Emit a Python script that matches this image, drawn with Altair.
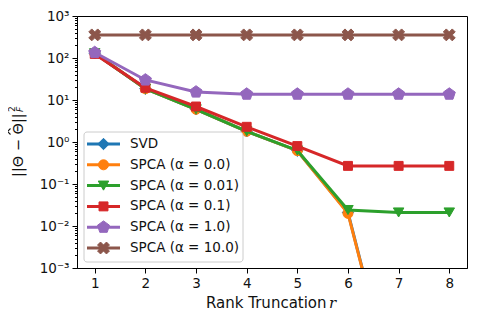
import altair as alt
import pandas as pd

# ---------------- data ----------------
ranks = [1, 2, 3, 4, 5, 6, 7, 8]
svd       = [130, 18.5, 6.0, 1.8, 0.62, 0.021, 4e-7, 3e-7]
spca_a0   = [130, 18.5, 6.0, 1.8, 0.62, 0.020, 4e-7, 3e-7]
spca_a001 = [130, 18.5, 6.0, 1.8, 0.63, 0.024, 0.021, 0.021]
spca_a01  = [125, 19.5, 7.0, 2.3, 0.80, 0.27, 0.27, 0.27]
spca_a1   = [135, 30, 15.5, 13.8, 13.8, 13.8, 13.8, 13.8]
spca_a10  = [355, 355, 355, 355, 355, 355, 355, 355]

series_labels = ["SVD", "SPCA (α = 0.0)", "SPCA (α = 0.01)", "SPCA (α = 0.1)",
                 "SPCA (α = 1.0)", "SPCA (α = 10.0)"]
series_values = [svd, spca_a0, spca_a001, spca_a01, spca_a1, spca_a10]

y_major = [1e-3, 1e-2, 1e-1, 1, 10, 100, 1000]
y_minor = [k * 10.0 ** d for d in range(-3, 3) for k in range(2, 10)]

# ---------------- styles ----------------
colors = ["#1f77b4", "#ff7f0e", "#2ca02c", "#d62728", "#9467bd", "#8c564b"]
PENTAGON = "M0,-1L0.951,-0.309L0.588,0.809L-0.588,0.809L-0.951,-0.309Z"
XSHAPE = ("M0.471,-0.943L0.943,-0.471L0.471,0L0.943,0.471L0.471,0.943L0,0.471"
          "L-0.471,0.943L-0.943,0.471L-0.471,0L-0.943,-0.471L-0.471,-0.943L0,-0.471Z")
HAT = "M0.5,-1L-0.5,0L0.5,1"
shapes = ["diamond", "circle", "triangle-down", "square", PENTAGON, XSHAPE]
sizes = [130, 100, 110, 80, 160, 160]

FONT = "DejaVu Sans"
TXT = "#111111"
W, H = 390, 252

rows = []
for lab, vals in zip(series_labels, series_values):
    for r, v in zip(ranks, vals):
        rows.append({"series": lab, "rank": r, "value": v})
df = pd.DataFrame(rows)

sup = {"-3": "⁻³", "-2": "⁻²", "-1": "⁻¹", "0": "⁰", "1": "¹", "2": "²", "3": "³"}
label_expr = "'10' + " + "".join(
    f"(round(log(datum.value)/LN10) == {k} ? '{v}' : " for k, v in sup.items()
) + "''" + ")" * len(sup)

x_scale = alt.Scale(domain=[0.65, 8.35], nice=False, zero=False)
y_scale = alt.Scale(type="log", domain=[1e-3, 1e3], nice=False)

x_enc = alt.X("rank:Q", scale=x_scale,
              axis=alt.Axis(values=ranks, title=None, grid=False, tickSize=5,
                            labelFontSize=13.5, labelPadding=3, labelFont=FONT,
                            labelColor=TXT, tickColor="black", domainColor="black"))
y_enc = alt.Y("value:Q", scale=y_scale,
              axis=alt.Axis(values=y_major, labelExpr=label_expr, title=None, grid=False,
                            tickSize=5, labelFontSize=13.5, labelPadding=3, labelFont=FONT,
                            labelColor=TXT, tickColor="black", domainColor="black"))

data_layers = []
for lab, col, shp, sz in zip(series_labels, colors, shapes, sizes):
    base = alt.Chart(df).transform_filter(alt.datum.series == lab)
    data_layers.append(base.mark_line(color=col, strokeWidth=3, clip=True).encode(x=x_enc, y=y_enc))
    data_layers.append(base.mark_point(shape=shp, size=sz, filled=True, color=col, opacity=1,
                                       stroke=col, strokeWidth=1, clip=True).encode(x=x_enc, y=y_enc))
data_chart = alt.layer(*data_layers)

minor_axis = alt.Chart(pd.DataFrame({"value": y_minor})).mark_point(opacity=0).encode(
    y=alt.Y("value:Q", scale=y_scale,
            axis=alt.Axis(values=y_minor, labels=False, title=None, grid=False, tickSize=2.5,
                          domain=False, orient="left", tickColor="black"))
)

one = pd.DataFrame({"a": [0]})

# legend
leg = [alt.Chart(one).mark_rect(fill="white", fillOpacity=0.8, stroke="#cccccc",
                                strokeWidth=1, cornerRadius=3).encode(
    x=alt.value(7), x2=alt.value(166), y=alt.value(116), y2=alt.value(246))]
row_y0, row_dy = 128, 20.8
for i, (lab, col, shp, sz) in enumerate(zip(series_labels, colors, shapes, sizes)):
    yy = row_y0 + i * row_dy
    leg.append(alt.Chart(one).mark_rule(color=col, strokeWidth=3).encode(
        x=alt.value(10), x2=alt.value(43), y=alt.value(yy)))
    leg.append(alt.Chart(one).mark_point(shape=shp, size=sz, filled=True, color=col, opacity=1,
                                         stroke=col, strokeWidth=1).encode(
        x=alt.value(26.5), y=alt.value(yy)))
    leg.append(alt.Chart(one).mark_text(text=lab, align="left", baseline="middle",
                                        font=FONT, fontSize=13.5, color=TXT).encode(
        x=alt.value(53), y=alt.value(yy)))

# axis titles
titles = [
    alt.Chart(one).mark_text(text="||Θ − Θ||", angle=270, align="left", baseline="alphabetic",
                             font=FONT, fontSize=14.5, color=TXT).encode(
        x=alt.value(-54), y=alt.value(161)),
    alt.Chart(one).mark_point(shape=HAT, size=36, filled=False, color=TXT, opacity=1,
                              strokeWidth=1.1).encode(
        x=alt.value(-68), y=alt.value(115.5)),
    alt.Chart(one).mark_text(text="2", angle=270, align="left", baseline="alphabetic",
                             font=FONT, fontSize=9, color=TXT).encode(
        x=alt.value(-62), y=alt.value(96)),
    alt.Chart(one).mark_text(text="F", angle=270, align="left", baseline="alphabetic",
                             font=FONT, fontSize=9, fontStyle="italic", color=TXT).encode(
        x=alt.value(-54), y=alt.value(96)),
    alt.Chart(one).mark_text(text="Rank Truncation", align="left", baseline="alphabetic",
                             font=FONT, fontSize=15, color=TXT).encode(
        x=alt.value(129), y=alt.value(292)),
    alt.Chart(one).mark_text(text="r", align="left", baseline="alphabetic",
                             font="DejaVu Serif", fontSize=15, fontStyle="italic",
                             color=TXT).encode(
        x=alt.value(252), y=alt.value(292)),
]

chart = alt.layer(data_chart, minor_axis, *leg, *titles).resolve_axis(y="independent").properties(
    width=W, height=H,
    autosize=alt.AutoSizeParams(type="none"),
    padding={"left": 69, "top": 8, "right": 4, "bottom": 48},
).configure_view(stroke="black", strokeWidth=1)

chart.save("out.html", embed_options={"renderer": "svg", "actions": False})
